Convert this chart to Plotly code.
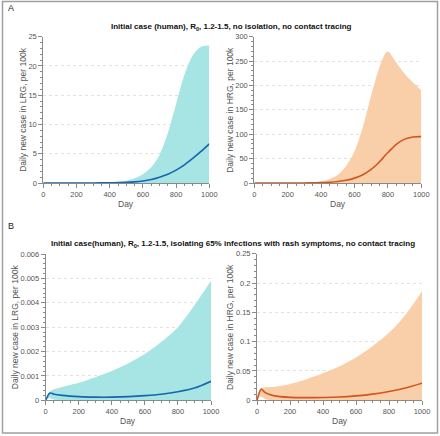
import plotly.graph_objects as go

# ---- data ----
days_a = [0, 100, 200, 300, 400, 450, 500, 550, 600, 650, 700, 750, 800, 850, 900, 950, 1000]
lrg_a_upper = [0, 0, 0, 0.01, 0.05, 0.15, 0.4, 0.8, 1.5, 2.7, 4.8, 8.5, 13.5, 18.5, 21.8, 23.3, 23.5]
lrg_a_lower = [0] * 17
lrg_a_mean = [0, 0, 0, 0.01, 0.03, 0.06, 0.1, 0.2, 0.35, 0.6, 1.0, 1.5, 2.2, 3.1, 4.2, 5.4, 6.7]

days_a2 = [0, 100, 200, 300, 350, 400, 450, 500, 550, 600, 650, 700, 740, 770, 790, 805, 825, 850, 900, 950, 1000]
hrg_a_upper = [0, 0, 0, 0.5, 1.5, 3, 8, 17, 35, 65, 115, 180, 228, 256, 268, 269, 260, 247, 224, 206, 190]
hrg_a_lower = [0] * 21
hrg_a_mean = [0, 0, 0, 0.1, 0.3, 0.7, 1.5, 3, 5.5, 10, 17, 28, 40, 51, 59, 64, 71, 79, 90, 94.5, 95]

days_b = [0, 10, 25, 50, 100, 200, 300, 400, 500, 600, 700, 800, 900, 1000]
lrg_b_upper = [0, 0.0002, 0.00035, 0.00045, 0.00055, 0.00072, 0.00095, 0.0012, 0.00152, 0.0019, 0.0024, 0.0030, 0.0039, 0.0049]
lrg_b_lower = [0, 0.00005, 0.00008, 0.00002, 0, 0, 0, 0, 0, 0, 0, 0, 0, 0]
lrg_b_mean = [0, 0.00015, 0.0003, 0.00025, 0.0002, 0.00015, 0.00013, 0.00013, 0.00015, 0.00019, 0.00025, 0.00035, 0.0005, 0.00078]

hrg_b_upper = [0, 0.012, 0.021, 0.022, 0.023, 0.028, 0.036, 0.046, 0.058, 0.073, 0.092, 0.115, 0.146, 0.186]
hrg_b_lower = [0, 0.004, 0.006, 0.002, 0, 0, 0, 0, 0, 0, 0, 0, 0, 0]
hrg_b_mean = [0, 0.01, 0.019, 0.013, 0.008, 0.005, 0.0045, 0.0048, 0.0055, 0.0075, 0.0105, 0.015, 0.021, 0.029]

title_a = "<b>Initial case (human), R<sub>0</sub>, 1.2-1.5, no isolation, no contact tracing</b>"
title_b = "<b>Initial case(human), R<sub>0</sub>, 1.2-1.5, isolating 65% infections with rash symptoms, no contact tracing</b>"
ylab_lrg = "Daily new case in LRG, per 100k"
ylab_hrg = "Daily new case in HRG, per 100k"

W, H = 440, 436
TEAL_FILL = "#a6e5e3"
TEAL_LINE = "#1565b0"
ORANGE_FILL = "#f9cfaa"
ORANGE_LINE = "#d2561c"
FONT = "Liberation Sans, Arial, sans-serif"

fig = go.Figure()

panels = [
    ("x", "y", days_a, lrg_a_lower, lrg_a_upper, lrg_a_mean, TEAL_FILL, TEAL_LINE, (43.3, 209.3, 36.7, 183), [0, 25], 5, 1, ylab_lrg, 23),
    ("x2", "y2", days_a2, hrg_a_lower, hrg_a_upper, hrg_a_mean, ORANGE_FILL, ORANGE_LINE, (254.3, 421.3, 36.7, 183), [0, 300], 50, 10, ylab_hrg, 230),
    ("x3", "y3", days_b, lrg_b_lower, lrg_b_upper, lrg_b_mean, TEAL_FILL, TEAL_LINE, (45.7, 211, 254, 400.3), [0, 0.006], 0.001, 0.0002, ylab_lrg, 15),
    ("x4", "y4", days_b, hrg_b_lower, hrg_b_upper, hrg_b_mean, ORANGE_FILL, ORANGE_LINE, (257, 422, 253.7, 400.3), [0, 0.25], 0.05, 0.01, ylab_hrg, 230),
]

annotations = []
for i, (xa, ya, xs, lo, up, mn, fc, lc, box, yr, dt, mdt, ylab, ytx) in enumerate(panels):
    fig.add_trace(go.Scatter(x=xs, y=lo, xaxis=xa, yaxis=ya, mode="lines",
                             line=dict(width=0, color=fc, shape="spline", smoothing=0.8),
                             showlegend=False, hoverinfo="skip"))
    fig.add_trace(go.Scatter(x=xs, y=up, xaxis=xa, yaxis=ya, mode="lines", fill="tonexty",
                             fillcolor=fc, line=dict(width=0, color=fc, shape="spline", smoothing=0.8),
                             showlegend=False, hoverinfo="skip"))
    fig.add_trace(go.Scatter(x=xs, y=mn, xaxis=xa, yaxis=ya, mode="lines",
                             line=dict(width=1.6, color=lc, shape="spline", smoothing=0.8),
                             showlegend=False))
    x0, x1, y0, y1 = box
    n = "" if i == 0 else str(i + 1)
    axcommon = dict(showline=True, linecolor="#8a8a8a", linewidth=1, ticks="outside",
                    tickcolor="#8a8a8a", ticklen=4, tickfont=dict(family=FONT, size=7.5, color="#555"),
                    zeroline=False, automargin=False)
    fig.layout["xaxis" + n] = dict(domain=[x0 / W, x1 / W], anchor=ya, range=[0, 1000], dtick=200,
                                   showgrid=False, minor=dict(dtick=50, ticks="outside", ticklen=2, tickcolor="#8a8a8a"),
                                   **axcommon)
    fig.layout["yaxis" + n] = dict(domain=[1 - y1 / H, 1 - y0 / H], anchor=xa, range=yr, dtick=dt,
                                   showgrid=True, gridcolor="#e2e2e2", griddash="dot", gridwidth=1,
                                   minor=dict(dtick=mdt, ticks="outside", ticklen=2, tickcolor="#8a8a8a", showgrid=False),
                                   **axcommon)
    annotations.append(dict(text="Day", x=(x0 + x1) / 2 / W, y=1 - (y1 + 21) / H, xref="paper", yref="paper",
                            showarrow=False, font=dict(family=FONT, size=8.5, color="#555"),
                            xanchor="center", yanchor="middle"))
    annotations.append(dict(text=ylab, x=ytx / W, y=1 - (y0 + y1) / 2 / H, xref="paper", yref="paper",
                            showarrow=False, textangle=-90, font=dict(family=FONT, size=8.5, color="#555"),
                            xanchor="center", yanchor="middle"))

annotations += [
    dict(text=title_a, x=231 / W, y=1 - 27 / H, xref="paper", yref="paper", showarrow=False,
         font=dict(family=FONT, size=8, color="#111"), xanchor="center", yanchor="middle"),
    dict(text=title_b, x=233 / W, y=1 - 244 / H, xref="paper", yref="paper", showarrow=False,
         font=dict(family=FONT, size=8, color="#111"), xanchor="center", yanchor="middle"),
    dict(text="A", x=6 / W, y=1 - 8 / H, xref="paper", yref="paper", showarrow=False,
         font=dict(family=FONT, size=9, color="#222"), xanchor="left", yanchor="middle"),
    dict(text="B", x=6 / W, y=1 - 226 / H, xref="paper", yref="paper", showarrow=False,
         font=dict(family=FONT, size=9, color="#222"), xanchor="left", yanchor="middle"),
]

fig.update_layout(
    width=W, height=H, margin=dict(l=0, r=0, t=0, b=0),
    paper_bgcolor="white", plot_bgcolor="white",
    annotations=annotations,
    shapes=[dict(type="rect", xref="paper", yref="paper", x0=2.5 / W, x1=437.5 / W,
                 y0=1 - 433 / H, y1=1 - 1.5 / H, line=dict(color="#a0a0a0", width=1.5))],
)

fig.write_html("out.html", config={"displayModeBar": False},
               post_script="document.body.style.margin='0';document.body.style.overflow='hidden';")
